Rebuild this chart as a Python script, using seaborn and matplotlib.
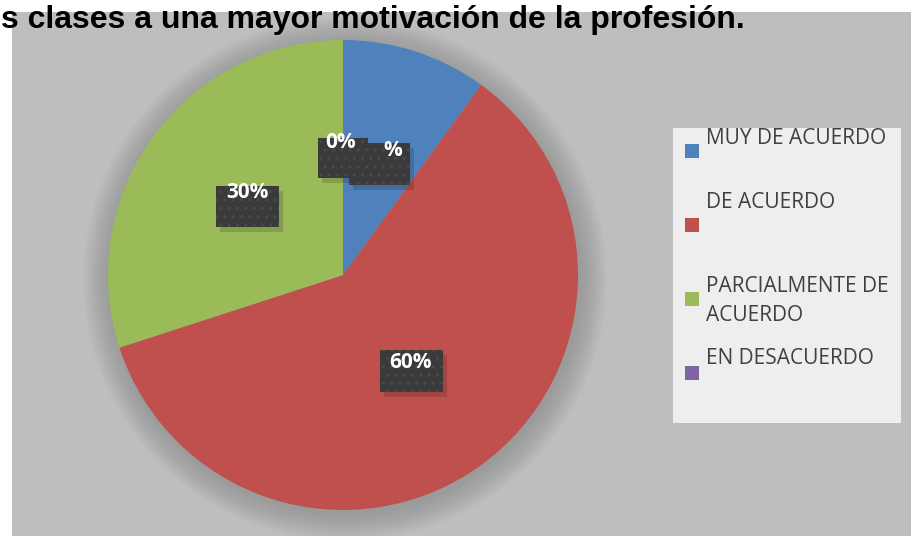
import matplotlib
matplotlib.use("Agg")
import matplotlib.pyplot as plt
import seaborn as sns
from matplotlib.patches import Rectangle, Circle

# data
categories = ["MUY DE ACUERDO", "DE ACUERDO", "PARCIALMENTE DE\nACUERDO", "EN DESACUERDO"]
values = [10, 60, 30, 0]
slice_labels = ["%", "60%", "30%", "0%"]
colors = ["#4F81BD", "#C0504D", "#9BBB59", "#8064A2"]
title = "s clases a una mayor motivación de la profesión."

sns.set_style("white")
plt.rcParams["font.family"] = ["Open Sans", "DejaVu Sans"]

W, H = 911, 536
fig = plt.figure(figsize=(W / 100, H / 100), dpi=100, facecolor="white")
ax = fig.add_axes([0, 0, 1, 1])

def py(y):
    return H - y

# grey chart area
ax.add_patch(Rectangle((12, 0), W - 12, H - 12, facecolor="#BEBEBE", edgecolor="none", zorder=0))

# soft glow around the pie
cx, cy, r = 343, py(275), 235
for rr in range(262, 234, -2):
    ax.add_patch(Circle((cx + 2, cy - 4), rr, facecolor="black", edgecolor="none", alpha=0.012, zorder=1))

wedges, _ = ax.pie(values, colors=colors, startangle=90, counterclock=False,
                   center=(cx, cy), radius=r, frame=True,
                   wedgeprops=dict(linewidth=0, zorder=2))
ax.set_xlim(0, W)
ax.set_ylim(0, H)
ax.set_aspect("equal")
ax.axis("off")

# data label boxes (x0, y0, x1, y1 in px) and text centre
label_boxes = {
    "%": ((349, 143, 410, 185), (393, 151)),
    "60%": ((380, 350, 443, 392), (411, 363)),
    "30%": ((216, 186, 279, 227), (247, 193)),
    "0%": ((318, 138, 368, 178), (341, 143)),
}
for lab in slice_labels:
    (x0, y0, x1, y1), (tx, ty) = label_boxes[lab]
    ax.add_patch(Rectangle((x0 + 4, py(y1) - 5), x1 - x0, y1 - y0, facecolor="black",
                           edgecolor="none", alpha=0.15, zorder=3))
    ax.add_patch(Rectangle((x0, py(y1)), x1 - x0, y1 - y0, facecolor="#3A3A3A",
                           edgecolor="#4A4A4A", hatch="..", linewidth=0, zorder=4))
    ax.text(tx, py(ty), lab, color="white", fontsize=15, fontweight="bold",
            ha="center", va="center", zorder=5)

# legend
ax.add_patch(Rectangle((673, py(423)), 228, 295, facecolor="#EEEEEE", edgecolor="none", zorder=3))
marker_y = [151, 225, 299, 373]
text_y = [139, 202, 301, 358]
for cat, col, my, ty in zip(categories, colors, marker_y, text_y):
    ax.add_patch(Rectangle((685, py(my) - 7), 14, 14, facecolor=col, edgecolor="none", zorder=4))
    ax.text(706, py(ty), cat, color="#404040", fontsize=15, ha="left", va="center",
            linespacing=1.45, zorder=4)

# title (clipped at the left edge as in the source)
ax.text(745, py(20), title, color="black", fontsize=23, fontweight="bold",
        family=["Liberation Sans", "DejaVu Sans"],
        ha="right", va="center", zorder=6)

fig.savefig("out.png", dpi=100, facecolor="white")
